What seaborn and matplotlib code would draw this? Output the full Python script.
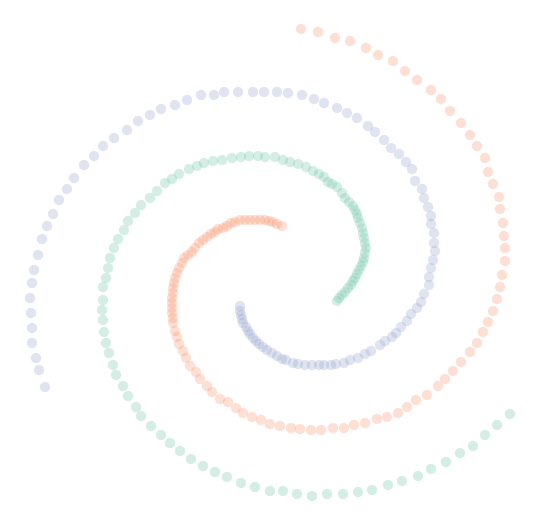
import pandas as pd
import seaborn as sns
import matplotlib
matplotlib.use("Agg")
import matplotlib.pyplot as plt

# Points, in picture coordinates (y grows downward)
green_pts = [
    (337, 301), (339, 298), (342, 295), (345, 292), (348, 288), (351, 285), (353, 281),
    (355, 278), (357, 274), (359, 270), (361, 266), (363, 262), (364, 258), (365, 253),
    (366, 248), (365, 243), (364, 238), (363, 233), (362, 228), (360, 223), (358, 218),
    (357, 214), (355, 210), (353, 206), (349, 202), (345, 198), (342, 193), (337, 187),
    (332, 184), (328, 182), (324, 177), (319, 174), (313, 171), (306, 167), (298, 164),
    (290, 162), (283, 160), (275, 157), (265, 157), (258, 156), (249, 156), (241, 157),
    (232, 158), (222, 160), (213, 161), (204, 163), (197, 166), (189, 169), (179, 174),
    (172, 179), (165, 183), (157, 191), (150, 198), (141, 205), (135, 213), (128, 221),
    (124, 230), (118, 239), (114, 248), (110, 258), (108, 268), (106, 278), (103, 287),
    (103, 300), (102, 310), (103, 320), (104, 332), (106, 343), (109, 353), (113, 365),
    (116, 375), (123, 386), (128, 396), (136, 407), (141, 416), (151, 426), (161, 435),
    (170, 443), (180, 451), (191, 459), (203, 466), (215, 472), (227, 477), (241, 483),
    (255, 487), (270, 491), (283, 491), (297, 494), (312, 496), (327, 494), (343, 494),
    (358, 492), (372, 490), (388, 485), (402, 481), (418, 476), (431, 469), (446, 462),
    (460, 453), (473, 446), (485, 435), (497, 425), (510, 414),
]

orange_pts = [
    (282, 226), (277, 224), (273, 222), (269, 221), (265, 220), (260, 220), (255, 220),
    (250, 220), (245, 220), (240, 220), (235, 222), (231, 223), (227, 226), (223, 228),
    (218, 229), (215, 232), (211, 234), (207, 237), (203, 240), (199, 243), (195, 248),
    (192, 252), (188, 255), (184, 258), (182, 263), (179, 268), (177, 273), (175, 278),
    (174, 283), (173, 288), (173, 293), (172, 298), (172, 303), (172, 308), (172, 313),
    (173, 318), (173, 323), (175, 331), (177, 337), (179, 344), (183, 351), (186, 358),
    (190, 366), (196, 372), (200, 379), (207, 386), (212, 392), (220, 399), (228, 402),
    (236, 408), (243, 413), (252, 417), (261, 420), (270, 424), (280, 426), (291, 428),
    (300, 429), (311, 430), (321, 430), (333, 428), (344, 428), (354, 425), (365, 423),
    (377, 419), (387, 417), (398, 413), (407, 407), (416, 400), (427, 395), (438, 386),
    (445, 379), (453, 371), (461, 362), (470, 352), (477, 343), (483, 332), (488, 322),
    (493, 311), (497, 299), (500, 287), (502, 275), (505, 261), (505, 248), (504, 236),
    (503, 223), (500, 209), (499, 197), (493, 184), (488, 172), (485, 158), (477, 146),
    (470, 135), (461, 123), (450, 111), (441, 99), (431, 90), (417, 80), (405, 71),
    (393, 61), (378, 55), (366, 48), (350, 41), (335, 38), (318, 32), (301, 29),
]

blue_pts = [
    (240, 306), (240, 311), (241, 315), (242, 319), (243, 323), (246, 327), (248, 331),
    (250, 334), (253, 338), (256, 341), (259, 344), (263, 347), (267, 350), (272, 353),
    (277, 356), (282, 359), (286, 360), (293, 363), (298, 364), (305, 365), (312, 365),
    (319, 365), (324, 365), (331, 365), (336, 364), (344, 363), (350, 360), (358, 358),
    (365, 354), (371, 351), (380, 345), (385, 341), (392, 337), (396, 333), (401, 327),
    (407, 321), (411, 314), (417, 308), (421, 302), (424, 294), (429, 285), (429, 277),
    (431, 268), (433, 260), (435, 251), (434, 243), (434, 233), (431, 224), (431, 216),
    (428, 207), (424, 198), (422, 189), (415, 181), (412, 169), (406, 162), (399, 154),
    (391, 148), (384, 140), (375, 132), (368, 126), (357, 118), (347, 113), (337, 108),
    (324, 103), (314, 99), (302, 95), (288, 93), (277, 92), (264, 92), (253, 92),
    (238, 92), (224, 92), (214, 95), (201, 95), (187, 100), (175, 105), (161, 109),
    (150, 115), (138, 121), (127, 130), (114, 138), (103, 146), (94, 156), (84, 165),
    (74, 178), (67, 189), (59, 200), (53, 214), (47, 226), (42, 239), (38, 255),
    (34, 270), (32, 283), (30, 298), (31, 313), (32, 328), (32, 343), (36, 358),
    (39, 370), (45, 387),
]

arm_colors = {"0": "#66c2a5", "1": "#fc8d62", "2": "#8da0cb"}

# Build one long table
frames = []
for label, pts in [("0", green_pts), ("1", orange_pts), ("2", blue_pts)]:
    df = pd.DataFrame(pts, columns=["x", "y"])
    df["arm"] = label
    frames.append(df)
data = pd.concat(frames, ignore_index=True)

sns.set_style("white")
fig = plt.figure(figsize=(5.41, 5.26), dpi=100)
ax = fig.add_axes([0, 0, 1, 1])
sns.scatterplot(data=data, x="x", y="y", hue="arm", palette=arm_colors,
                s=55, alpha=0.28, linewidth=0, legend=False, ax=ax)
ax.set_xlim(0, 541)
ax.set_ylim(526, 0)
ax.set_axis_off()

fig.savefig("out.png", dpi=100)
